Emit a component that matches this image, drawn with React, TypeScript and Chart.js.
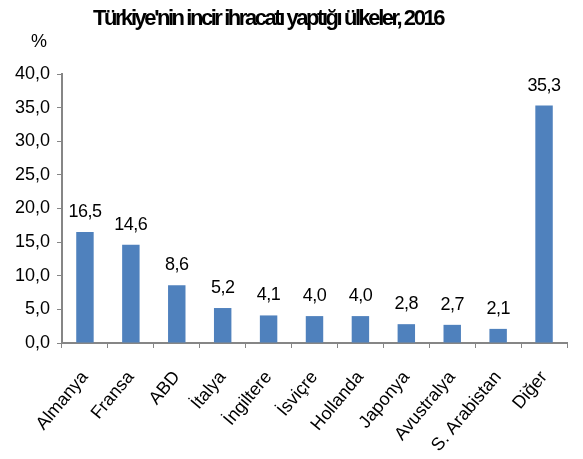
import React, { useEffect, useRef } from "react";
import { Chart, registerables } from "chart.js";

Chart.register(...registerables);

const categories = ["Almanya", "Fransa", "ABD", "İtalya", "İngiltere", "İsviçre", "Hollanda", "Japonya", "Avustralya", "S. Arabistan", "Diğer"];
const values = [16.5, 14.6, 8.6, 5.2, 4.1, 4.0, 4.0, 2.8, 2.7, 2.1, 35.3];
const titleText = "Türkiye'nin incir ihracatı yaptığı ülkeler, 2016";
const unitText = "%";

const fmt = (v: number) => v.toFixed(1).replace(".", ",");

const FONT = "'Liberation Sans', Arial, sans-serif";

const textPlugin = {
  id: "texts",
  afterDraw(chart: any) {
    const ctx = chart.ctx as CanvasRenderingContext2D;
    ctx.save();
    ctx.fillStyle = "#000";
    ctx.font = `bold 22px ${FONT}`;
    (ctx as any).letterSpacing = "0px";
    const natural = ctx.measureText(titleText).width;
    const target = 350;
    const ls = (target - natural) / titleText.length;
    (ctx as any).letterSpacing = `${ls}px`;
    ctx.textAlign = "left";
    ctx.textBaseline = "alphabetic";
    ctx.fillText(titleText, 268 - target / 2, 25);
    (ctx as any).letterSpacing = "0px";
    ctx.font = `18px ${FONT}`;
    ctx.fillText(unitText, 31, 47);
    ctx.restore();
  },
};

const labelPlugin = {
  id: "valueLabels",
  afterDatasetsDraw(chart: any) {
    const ctx = chart.ctx as CanvasRenderingContext2D;
    const meta = chart.getDatasetMeta(0);
    ctx.save();
    ctx.font = `18px ${FONT}`;
    ctx.fillStyle = "#000";
    ctx.textAlign = "center";
    ctx.textBaseline = "alphabetic";
    (ctx as any).letterSpacing = "-0.5px";
    meta.data.forEach((el: any, i: number) => {
      ctx.fillText(fmt(values[i]), el.x, el.y - 15);
    });
    ctx.restore();
  },
};

export default function App() {
  const ref = useRef<HTMLCanvasElement>(null);
  useEffect(() => {
    if (!ref.current) return;
    const chart = new Chart(ref.current, {
      type: "bar",
      data: {
        labels: categories,
        datasets: [
          {
            data: values,
            backgroundColor: "#4F81BD",
            borderWidth: 0,
            barPercentage: 0.38,
            categoryPercentage: 1,
          },
        ],
      },
      options: {
        animation: false,
        responsive: false,
        maintainAspectRatio: false,
        layout: { padding: { top: 74, right: 16, bottom: 0, left: 0 } },
        plugins: { legend: { display: false }, title: { display: false }, tooltip: { enabled: false } },
        scales: {
          x: {
            offset: true,
            grid: { display: true, drawOnChartArea: false, drawTicks: true, tickLength: 5, color: "#868686", lineWidth: 1, offset: true },
            border: { display: true, color: "#868686", width: 2 },
            ticks: {
              color: "#000",
              font: { family: FONT, size: 18 },
              minRotation: 50,
              maxRotation: 50,
              padding: 19,
              autoSkip: false,
            },
            afterFit(scale: any) {
              scale.height = 116;
            },
          },
          y: {
            min: 0,
            max: 40,
            grid: { display: true, drawOnChartArea: false, drawTicks: true, tickLength: 5, color: "#868686", lineWidth: 1 },
            border: { display: true, color: "#868686", width: 2 },
            ticks: {
              stepSize: 5,
              color: "#000",
              font: { family: FONT, size: 18 },
              padding: 7,
              callback: (v: any) => fmt(Number(v)),
            },
            afterFit(scale: any) {
              scale.width = 62;
            },
          },
        },
      },
      plugins: [textPlugin, labelPlugin],
    });
    return () => chart.destroy();
  }, []);
  return (
    <div style={{ position: "fixed", left: 0, top: 0, width: 583, height: 459, background: "#fff" }}>
      <canvas ref={ref} width={583} height={459} style={{ width: 583, height: 459 }} />
    </div>
  );
}
